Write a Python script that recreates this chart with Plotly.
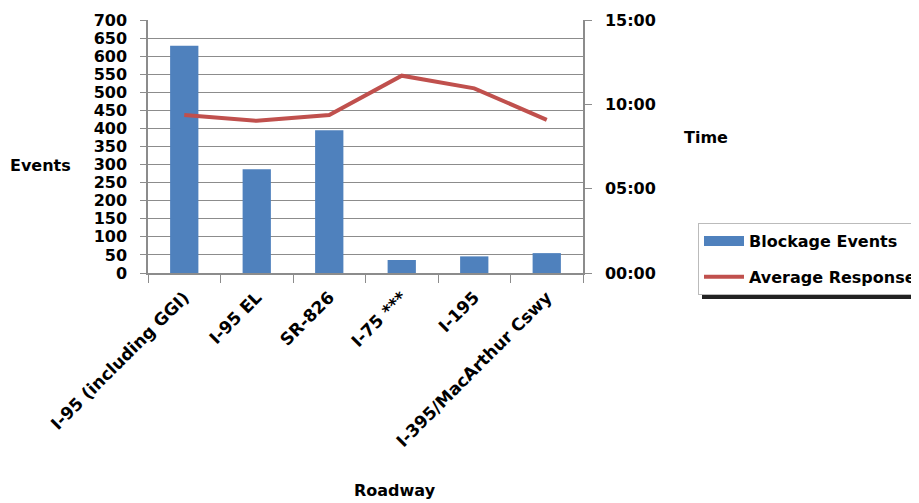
import plotly.graph_objects as go

roadways = ["I-95 (including GGI)", "I-95 EL", "SR-826", "I-75 ***", "I-195", "I-395/MacArthur Cswy"]
blockage_events = [629, 287, 395, 36, 46, 55]
avg_response_min = [9.37, 9.02, 9.37, 11.70, 10.95, 9.08]
time_tick_vals = [0, 5, 10, 15]
time_tick_text = ["00:00", "05:00", "10:00", "15:00"]

FONT = "DejaVu Sans"
BLUE = "#4F81BD"
RED = "#C0504D"
GRID = "#8C8C8C"
FS = 16

OFF = 8  # page body margin
W, H = 919, 503
# target plot-area edges in window pixels
X0, X1, Y0, Y1 = 148, 583, 20, 273
L = X0 - OFF
T = Y0 - OFF
pw, ph = X1 - X0, Y1 - Y0
R = W - L - pw
B = H - T - ph


def px(x):
    return (x - X0) / pw


def py(y):
    return (Y1 - y) / ph


fig = go.Figure()
fig.add_trace(go.Bar(
    x=roadways, y=blockage_events, name="Blockage Events",
    marker=dict(color=BLUE, line=dict(width=0)), width=0.39,
    showlegend=False,
))
# legend-only entry so the legend key is a wide blue block as in the reference
fig.add_trace(go.Scatter(
    x=[None], y=[None], name="Blockage Events",
    mode="lines", line=dict(color=BLUE, width=12), legendgroup="a",
))
fig.add_trace(go.Scatter(
    x=roadways, y=avg_response_min, name="Average Response", yaxis="y2",
    mode="lines", line=dict(color=RED, width=4), legendgroup="b",
))

ann_font = dict(family=FONT, size=FS)

fig.update_layout(
    width=W, height=H,
    margin=dict(l=L, r=R, t=T, b=B, autoexpand=False),
    plot_bgcolor="white", paper_bgcolor="white",
    font=dict(family=FONT, size=FS, color="black"),
    xaxis=dict(
        type="category", tickangle=-45, showgrid=False,
        showline=True, linecolor=GRID, linewidth=1.5,
        ticks="outside", tickson="boundaries", ticklen=8, tickcolor=GRID,
        tickfont=dict(family=FONT, size=17, weight="bold"),
        ticklabelstandoff=6,
        range=[-0.5, 5.5],
    ),
    yaxis=dict(
        range=[0, 700], tickvals=list(range(0, 701, 50)),
        showgrid=True, gridcolor=GRID, gridwidth=1.2,
        showline=True, linecolor=GRID, linewidth=1.5,
        ticks="outside", ticklen=6, tickcolor=GRID,
        tickfont=dict(family=FONT, size=FS, weight="bold"),
        ticklabelstandoff=10, zeroline=False,
    ),
    yaxis2=dict(
        overlaying="y", side="right", range=[0, 15],
        tickvals=time_tick_vals, ticktext=time_tick_text,
        showgrid=False, showline=True, linecolor=GRID, linewidth=1.5,
        ticks="outside", ticklen=7, tickcolor=GRID,
        tickfont=dict(family=FONT, size=FS, weight="bold"),
        ticklabelstandoff=10, zeroline=False,
    ),
    legend=dict(
        x=px(698), y=py(223), xanchor="left", yanchor="top",
        bgcolor="white", bordercolor="#BBBBBB", borderwidth=1,
        font=dict(family=FONT, size=FS, weight="bold"),
        tracegroupgap=12, itemwidth=40,
    ),
    shapes=[dict(
        type="rect", xref="paper", yref="paper",
        x0=px(702), x1=px(960), y0=py(228), y1=py(299),
        fillcolor="#222222", line=dict(width=0), layer="above",
    )],
    annotations=[
        dict(text="<b>Events</b>", x=px(40), y=py(165), xref="paper", yref="paper",
             xanchor="center", yanchor="middle", showarrow=False, font=ann_font),
        dict(text="<b>Time</b>", x=px(706), y=py(137), xref="paper", yref="paper",
             xanchor="center", yanchor="middle", showarrow=False, font=ann_font),
        dict(text="<b>Roadway</b>", x=px(395), y=py(490), xref="paper", yref="paper",
             xanchor="center", yanchor="middle", showarrow=False, font=ann_font),
    ],
)

fig.write_html("out.html")
